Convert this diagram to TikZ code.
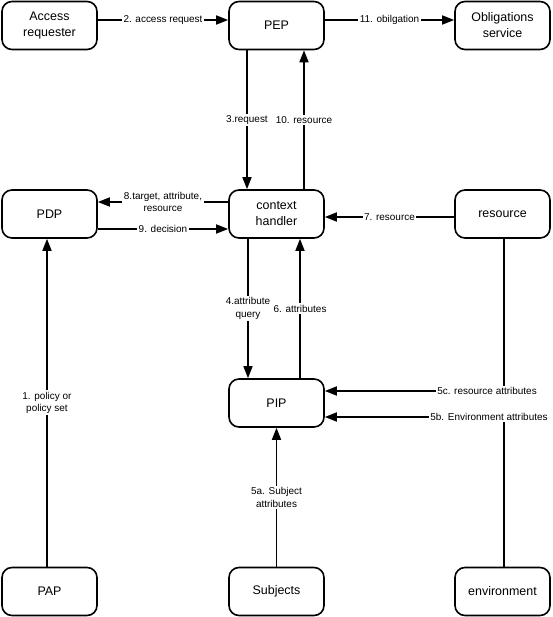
\documentclass[tikz,border=0pt]{standalone}
\usepackage{fontspec}
\setmainfont{Liberation Sans}
\usetikzlibrary{arrows.meta}
\tikzset{
  box/.style={draw=black, line width=1.6bp, rounded corners=10bp, minimum width=95bp, minimum height=48bp, inner sep=0pt, align=center, font=\fontsize{12.5}{16}\selectfont},
  arr/.style={line width=1.6bp, -{Triangle[length=12bp,width=9bp]}},
  conn/.style={line width=1.6bp},
  lbl/.style={fill=white, inner sep=1.5bp, align=center, font=\fontsize{10}{12.5}\selectfont}
}
\begin{document}
\begin{tikzpicture}[x=1bp,y=-1bp]
\useasboundingbox (0,0) rectangle (553,617);
\node[box] (acc) at (49.5,25.5) {Access\\requester};
\node[box] (pep) at (276.5,25.5) {PEP};
\node[box] (obl) at (502.5,25.5) {Obligations\\service};
\node[box] (pdp) at (49.5,214) {PDP};
\node[box] (ctx) at (276.5,214) {context\\handler};
\node[box] (res) at (502.5,214) {resource};
\node[box] (pip) at (276.5,403) {PIP};
\node[box] (pap) at (49.5,591.5) {PAP};
\node[box] (sub) at (276.5,591.5) {Subjects};
\node[box] (env) at (502.5,591.5) {environment};

\draw[arr] ([yshift=5.5bp]acc.east) -- node[lbl]{2. access request} ([yshift=5.5bp]pep.west);
\draw[arr] ([yshift=5.5bp]pep.east) -- node[lbl]{11. obilgation} ([yshift=5.5bp]obl.west);
\draw[arr] ([xshift=-29.5bp]pep.south) -- node[lbl]{3.request} ([xshift=-29.5bp]ctx.north);
\draw[arr] ([xshift=27.5bp]ctx.north) -- node[lbl]{10. resource} ([xshift=27.5bp]pep.south);
\draw[arr] ([yshift=12bp]ctx.west) -- node[lbl]{8.target, attribute,\\resource} ([yshift=12bp]pdp.east);
\draw[arr] ([yshift=-15bp]pdp.east) -- node[lbl]{9. decision} ([yshift=-15bp]ctx.west);
\draw[arr] ([yshift=-3bp]res.west) -- node[lbl]{7. resource} ([yshift=-3bp]ctx.east);
\draw[arr] ([xshift=-28.5bp]ctx.south) -- node[lbl]{4.attribute\\query} ([xshift=-28.5bp]pip.north);
\draw[arr] ([xshift=23.5bp]pip.north) -- node[lbl]{6. attributes} ([xshift=23.5bp]ctx.south);
\draw[arr] ([xshift=-2.5bp]pap.north) -- node[lbl]{1. policy or\\policy set} ([xshift=-2.5bp]pdp.south);
\draw[arr] (sub.north) -- node[lbl]{5a. Subject\\attributes} (pip.south);
\draw[arr] ([xshift=1.5bp]res.south) |- node[lbl,xshift=-17bp]{5c. resource attributes} ([yshift=12bp]pip.east);
\draw[arr] ([xshift=1.5bp]env.north) |- node[lbl,xshift=-15bp]{5b. Environment attributes} ([yshift=-14bp]pip.east);
\end{tikzpicture}
\end{document}
